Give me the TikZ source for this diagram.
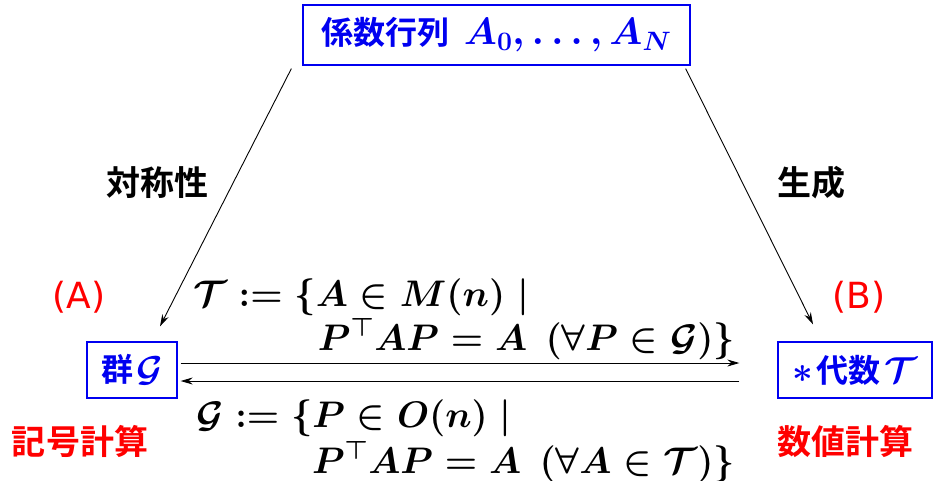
\RequirePackage{fix-cm}
\documentclass[tikz,border=0pt]{standalone}
\usepackage{fontspec}
\usepackage{amsmath}
\newfontfamily\cjkbold{Noto Sans CJK JP Bold}
\newfontfamily\labfont{DejaVu Sans}
\usetikzlibrary{arrows.meta}
\definecolor{pblue}{RGB}{0,0,240}
\definecolor{pred}{RGB}{255,0,0}
\newsavebox\coefbox
\newsavebox\groupbox
\newsavebox\algbox
\newsavebox\fabox
\newsavebox\fbbox
\newsavebox\fcbox
\newsavebox\fdbox
\tikzset{
  bluebox/.style={draw=pblue, line width=1.3pt, inner sep=0pt},
  arr/.style={-{Stealth[length=12pt,width=7pt]}, line width=0.9pt},
  jlab/.style={font=\cjkbold\fontsize{34}{40}\selectfont},
  redlab/.style={text=pred, font=\labfont\fontsize{36}{42}\selectfont},
  formula/.style={inner sep=0pt}
}
\begin{document}
\sbox\coefbox{\color{pblue}\fontsize{32}{38}\selectfont{\cjkbold 係数行列}\hspace{0.45em}{\fontsize{38}{44}\selectfont\boldmath$A_0,\ldots,A_N$\unboldmath}}%
\sbox\groupbox{\color{pblue}\fontsize{32}{38}\selectfont{\cjkbold 群}\hspace{0.1em}{\fontsize{36}{42}\selectfont\boldmath$\mathcal{G}$\unboldmath}}%
\sbox\algbox{\color{pblue}\fontsize{36}{42}\selectfont\boldmath$\ast$\unboldmath\hspace{0.1em}{\fontsize{32}{38}\selectfont\cjkbold 代数}\hspace{0.1em}\boldmath$\mathcal{T}$\unboldmath}%
\sbox\fabox{\fontsize{37}{44}\selectfont\boldmath$\mathcal{T} := \{A \in M(n) \mid$\unboldmath}%
\sbox\fbbox{\fontsize{37}{44}\selectfont\boldmath$P^{\top}AP = A\ \,(\forall P \in \mathcal{G})\}$\unboldmath}%
\sbox\fcbox{\fontsize{37}{44}\selectfont\boldmath$\mathcal{G} := \{P \in O(n) \mid$\unboldmath}%
\sbox\fdbox{\fontsize{37}{44}\selectfont\boldmath$P^{\top}AP = A\ \,(\forall A \in \mathcal{T})\}$\unboldmath}%
\begin{tikzpicture}[x=1pt,y=-1pt]
\path[use as bounding box] (0,0) rectangle (933,480);
\path (496.5,35) node[bluebox, minimum width=387pt, minimum height=60pt] (coef) {\usebox\coefbox};
\path (132,370) node[bluebox, minimum width=90pt, minimum height=56pt] (gL) {\usebox\groupbox};
\path (855,370) node[bluebox, minimum width=154pt, minimum height=56pt] (gR) {\usebox\algbox};
\path (157,183) node[jlab] (sym) {対称性};
\path (811,183) node[jlab] (gen) {生成};
\path (79,297) node[redlab] (la) {(A)};
\path (859,297) node[redlab] (lb) {(B)};
\path (80,441) node[jlab, text=pred] (sc) {記号計算};
\path (845,441) node[jlab, text=pred] (nc) {数値計算};
\draw[arr] ([xshift=-11pt,yshift=-3pt]coef.south west) -- ([xshift=28pt,yshift=15pt]gL.north);
\draw[arr] ([xshift=-5pt,yshift=-3pt]coef.south east) -- ([xshift=-42pt,yshift=17pt]gR.north);
\draw[arr] ([xshift=3pt,yshift=7pt]gL.east) -- ([xshift=-38pt,yshift=7pt]gR.west);
\draw[arr] ([xshift=-38pt,yshift=-11pt]gR.west) -- ([xshift=3pt,yshift=-11pt]gL.east);
\path (193,306) node[formula, anchor=base west] (f1) {\usebox\fabox};
\path (735,350) node[formula, anchor=base east] (f2) {\usebox\fbbox};
\path (196,427) node[formula, anchor=base west] (f3) {\usebox\fcbox};
\path (735,473) node[formula, anchor=base east] (f4) {\usebox\fdbox};
\end{tikzpicture}
\end{document}
